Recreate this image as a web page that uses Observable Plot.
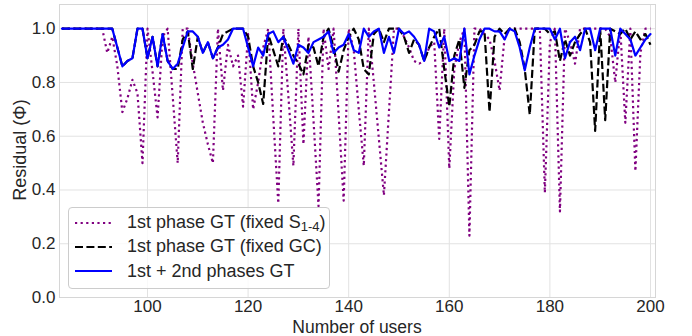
<!DOCTYPE html>
<html>
<head>
<meta charset="utf-8">
<script src="https://cdn.jsdelivr.net/npm/d3@7"></script>
<script src="https://cdn.jsdelivr.net/npm/@observablehq/plot@0.6"></script>
<style>
  body { margin: 0; background: #fff; }
  #wrap { position: relative; width: 692px; height: 336px; font-family: "Liberation Sans", Arial, sans-serif; color: #262626; overflow: hidden; }
  #wrap svg text { font-family: "Liberation Sans", Arial, sans-serif !important; font-size: 17px !important; fill: #262626; }
  #legend { position: absolute; left: 68px; top: 207px; width: 262px; height: 82px;
            border: 1px solid #cccccc; border-radius: 4px; background: rgba(255,255,255,0.8);
            box-sizing: border-box; }
  .row { position: absolute; left: 0; height: 20px; display: flex; align-items: center; }
  .row svg { margin-left: 6px; }
  .row span { margin-left: 15px; font-size: 18px; color: #262626; white-space: nowrap; }
  .row sub { font-size: 13px; vertical-align: -3px; }
  .xlabel { position: absolute; left: 357px; top: 326.5px; transform: translate(-50%, -50%); font-size: 17.5px; line-height: 17px; white-space: nowrap; }
  .ylabel { position: absolute; left: 20px; top: 150px; transform: translate(-50%, -50%) rotate(-90deg); font-size: 18px; line-height: 18px; white-space: nowrap; }
</style>
</head>
<body>
<div id="wrap"></div>
<script>
const users = [83,84,85,86,87,88,89,90,91,92,
  93,94,95,96,97,98,99,100,101,102,
  103,104,105,106,107,108,109,110,111,112,
  113,114,115,116,117,118,119,120,121,122,
  123,124,125,126,127,128,129,130,131,132,
  133,134,135,136,137,138,139,140,141,142,
  143,144,145,146,147,148,149,150,151,152,
  153,154,155,156,157,158,159,160,161,162,
  163,164,165,166,167,168,169,170,171,172,
  173,174,175,176,177,178,179,180,181,182,
  183,184,185,186,187,188,189,190,191,192,
  193,194,195,196,197,198,199,200];

const fixedS = [1,1,1,1,1,1,1,1,1,0.91,
  0.97,0.86,0.69,0.74,0.81,0.76,0.50,1,0.84,0.67,
  0.97,1,0.75,0.50,1,1,0.87,0.76,0.65,0.57,
  0.50,1,0.77,0.94,0.86,0.90,0.71,0.98,0.70,0.80,
  0.93,1,0.67,0.35,1,0.75,0.49,1,0.57,0.97,
  0.66,0.34,1,0.85,1,0.68,0.36,1,0.92,0.70,
  0.49,1,0.80,0.59,0.38,0.69,1,1,0.97,0.93,
  0.88,0.87,0.88,0.93,0.95,0.59,1,0.48,0.85,0.95,
  1,0.23,1,1,0.98,0.96,0.88,0.77,0.97,1,
  1,1,1,1,1,1,0.39,0.95,1,0.32,
  1,0.95,0.87,1,1,1,1,1,1,0.97,
  0.80,1,0.65,1,0.47,0.91,1,1];

const fixedGC = [1,1,1,1,1,1,1,1,1,1,
  1,0.93,0.86,0.88,0.89,1,1,0.89,0.97,0.86,
  0.98,0.88,0.85,0.85,0.96,0.99,0.85,0.97,0.91,0.95,
  0.89,0.93,0.98,0.99,1,1,1,0.97,0.86,0.80,
  0.72,0.98,0.92,0.86,0.97,0.94,0.90,0.87,0.83,0.94,
  0.93,0.86,0.97,1,0.93,0.84,0.92,0.97,1,0.96,
  0.85,0.83,0.98,1,0.95,1,1,1,0.97,0.91,
  0.96,0.94,0.88,0.93,0.97,1,0.85,0.71,0.90,0.96,
  0.78,0.92,0.94,0.99,0.99,0.69,0.97,1,0.98,1,
  1,0.95,0.85,0.68,1,1,1,0.98,0.99,0.88,
  0.96,0.90,0.95,0.98,1,0.95,0.62,1,0.66,1,
  0.99,0.98,1,0.96,0.99,0.96,0.98,0.94];

const bothPhases = [1,1,1,1,1,1,1,1,1,1,
  1,0.93,0.86,0.88,0.89,1,1,0.89,0.97,0.86,
  0.98,0.88,0.85,0.87,0.93,0.99,0.99,0.97,0.91,0.95,
  0.89,0.93,0.94,0.96,1,1,1,0.93,0.86,0.93,
  0.90,0.98,0.99,0.95,0.97,0.92,0.87,0.94,0.93,0.91,
  0.95,0.96,0.97,0.99,0.91,0.93,0.94,0.98,0.92,0.91,
  1,0.97,0.99,1,0.91,0.97,0.91,1,0.98,0.99,
  0.97,0.94,0.88,1,0.99,0.93,0.97,0.88,0.89,0.88,
  1,0.83,0.90,0.96,1,1,0.99,0.99,0.96,1,
  0.99,0.93,0.845,0.93,1,1,1,1,0.96,1,
  0.89,0.95,0.97,0.92,1,1,0.92,1,1,1,
  0.90,1,0.98,0.96,0.90,0.93,0.96,0.98];

const xTicks = [100,120,140,160,180,200];
const yTicks = [0,0.2,0.4,0.6,0.8,1.0];

const rows = (vals) => users.map((u, i) => ({u, v: vals[i]}));

const gridColor = "#e2e2e2";
const chart = Plot.plot({
  width: 692,
  height: 336,
  marginLeft: 59,
  marginRight: 37,
  marginTop: 4,
  marginBottom: 39,
  style: {fontFamily: "Liberation Sans, Arial, sans-serif", fontSize: "17px", color: "#262626", background: "#fff"},
  x: {domain: [82.5, 201]},
  y: {domain: [0, 1.09]},
  marks: [
    Plot.gridX(xTicks, {stroke: gridColor, strokeOpacity: 1}),
    Plot.gridY(yTicks, {stroke: gridColor, strokeOpacity: 1}),
    Plot.frame({stroke: "#d6d6d6"}),
    Plot.lineY(rows(fixedS), {x: "u", y: "v", stroke: "purple", strokeWidth: 2.2, strokeDasharray: "2.2,3.4", strokeLinecap: "butt"}),
    Plot.lineY(rows(fixedGC), {x: "u", y: "v", stroke: "black", strokeWidth: 2.2, strokeDasharray: "8,3.4", strokeLinecap: "butt"}),
    Plot.lineY(rows(bothPhases), {x: "u", y: "v", stroke: "#0000ff", strokeWidth: 2.2}),
    Plot.axisX(xTicks, {tickSize: 0, tickPadding: 2, label: null, tickFormat: d3.format("d")}),
    Plot.axisY(yTicks, {tickSize: 0, tickPadding: 4, label: null, tickFormat: d3.format(".1f")})
  ]
});
const wrap = document.getElementById("wrap");
wrap.appendChild(chart);

const xl = document.createElement("div");
xl.className = "xlabel";
xl.textContent = "Number of users";
wrap.appendChild(xl);
const yl = document.createElement("div");
yl.className = "ylabel";
yl.textContent = "Residual (Φ)";
wrap.appendChild(yl);

const legend = document.createElement("div");
legend.id = "legend";
const items = [
  {html: "1st phase GT (fixed S<sub>1-4</sub>)", stroke: "purple", dash: "2.2,3.4"},
  {html: "1st phase GT (fixed GC)", stroke: "black", dash: "8,3.4"},
  {html: "1st + 2nd phases GT", stroke: "#0000ff", dash: null}
];
items.forEach((it, i) => {
  const r = document.createElement("div");
  r.className = "row";
  r.style.top = (4.5 + i * 24.3) + "px";
  r.innerHTML = `<svg width="37" height="20"><line x1="0" x2="37" y1="10" y2="10" stroke="${it.stroke}" stroke-width="2.2" ${it.dash ? `stroke-dasharray="${it.dash}"` : ""}/></svg><span>${it.html}</span>`;
  legend.appendChild(r);
});
wrap.appendChild(legend);
</script>
</body>
</html>
